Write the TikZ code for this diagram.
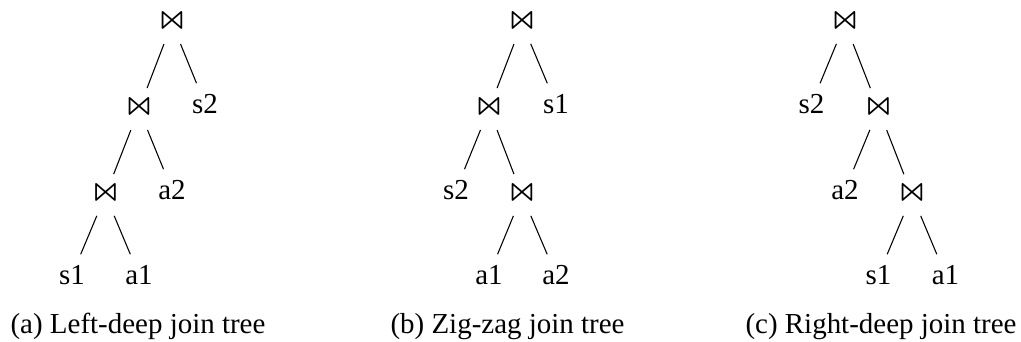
\documentclass[tikz,border=0pt]{standalone}
\usepackage{fontspec}
\setmainfont{Liberation Serif}
\usepackage{latexsym}
\begin{document}
\begin{tikzpicture}[x=0.373pt,y=-0.373pt,
  nd/.style={inner sep=0pt,font=\fontsize{10.8}{13}\selectfont},
  jn/.style={inner sep=0pt,yshift=-1.9pt,font=\fontsize{10.8}{13}\selectfont\boldmath},
  ed/.style={line width=0.4pt, shorten <=8.4pt, shorten >=8.4pt},
  captext/.style={anchor=base,inner sep=0pt,font=\fontsize{10.8}{13}\selectfont}]
\useasboundingbox (0,0) rectangle (1021,341);
% (a) left-deep
\node[jn] (a1j) at (172,18) {$\Join$};
\node[jn] (a2j) at (139,104) {$\Join$};
\node[nd] (as2) at (205,104) {s2};
\node[jn] (a3j) at (105.5,190) {$\Join$};
\node[nd] (aa2) at (172,190) {a2};
\node[nd] (as1) at (72,275) {s1};
\node[nd] (aa1) at (139,275) {a1};
\draw[ed] (a1j.center) -- (a2j.center);
\draw[ed] (a1j.center) -- (as2.center);
\draw[ed] (a2j.center) -- (a3j.center);
\draw[ed] (a2j.center) -- (aa2.center);
\draw[ed] (a3j.center) -- (as1.center);
\draw[ed] (a3j.center) -- (aa1.center);
\node[captext] (capa) at (138,333) {(a) Left-deep join tree};
% (b) zig-zag
\node[jn] (b1j) at (522,18) {$\Join$};
\node[jn] (b2j) at (489,104) {$\Join$};
\node[nd] (bs1) at (556,104) {s1};
\node[nd] (bs2) at (456,190) {s2};
\node[jn] (b3j) at (522,190) {$\Join$};
\node[nd] (ba1) at (489,275) {a1};
\node[nd] (ba2) at (556,275) {a2};
\draw[ed] (b1j.center) -- (b2j.center);
\draw[ed] (b1j.center) -- (bs1.center);
\draw[ed] (b2j.center) -- (bs2.center);
\draw[ed] (b2j.center) -- (b3j.center);
\draw[ed] (b3j.center) -- (ba1.center);
\draw[ed] (b3j.center) -- (ba2.center);
\node[captext] (capb) at (507.5,333) {(b) Zig-zag join tree};
% (c) right-deep
\node[jn] (c1j) at (845,18) {$\Join$};
\node[nd] (cs2) at (811.5,104) {s2};
\node[jn] (c2j) at (878.5,104) {$\Join$};
\node[nd] (ca2) at (845,190) {a2};
\node[jn] (c3j) at (912,190) {$\Join$};
\node[nd] (cs1) at (878.5,275) {s1};
\node[nd] (ca1) at (945.5,275) {a1};
\draw[ed] (c1j.center) -- (cs2.center);
\draw[ed] (c1j.center) -- (c2j.center);
\draw[ed] (c2j.center) -- (ca2.center);
\draw[ed] (c2j.center) -- (c3j.center);
\draw[ed] (c3j.center) -- (cs1.center);
\draw[ed] (c3j.center) -- (ca1.center);
\node[captext] (capc) at (881,333) {(c) Right-deep join tree};
\end{tikzpicture}
\end{document}
